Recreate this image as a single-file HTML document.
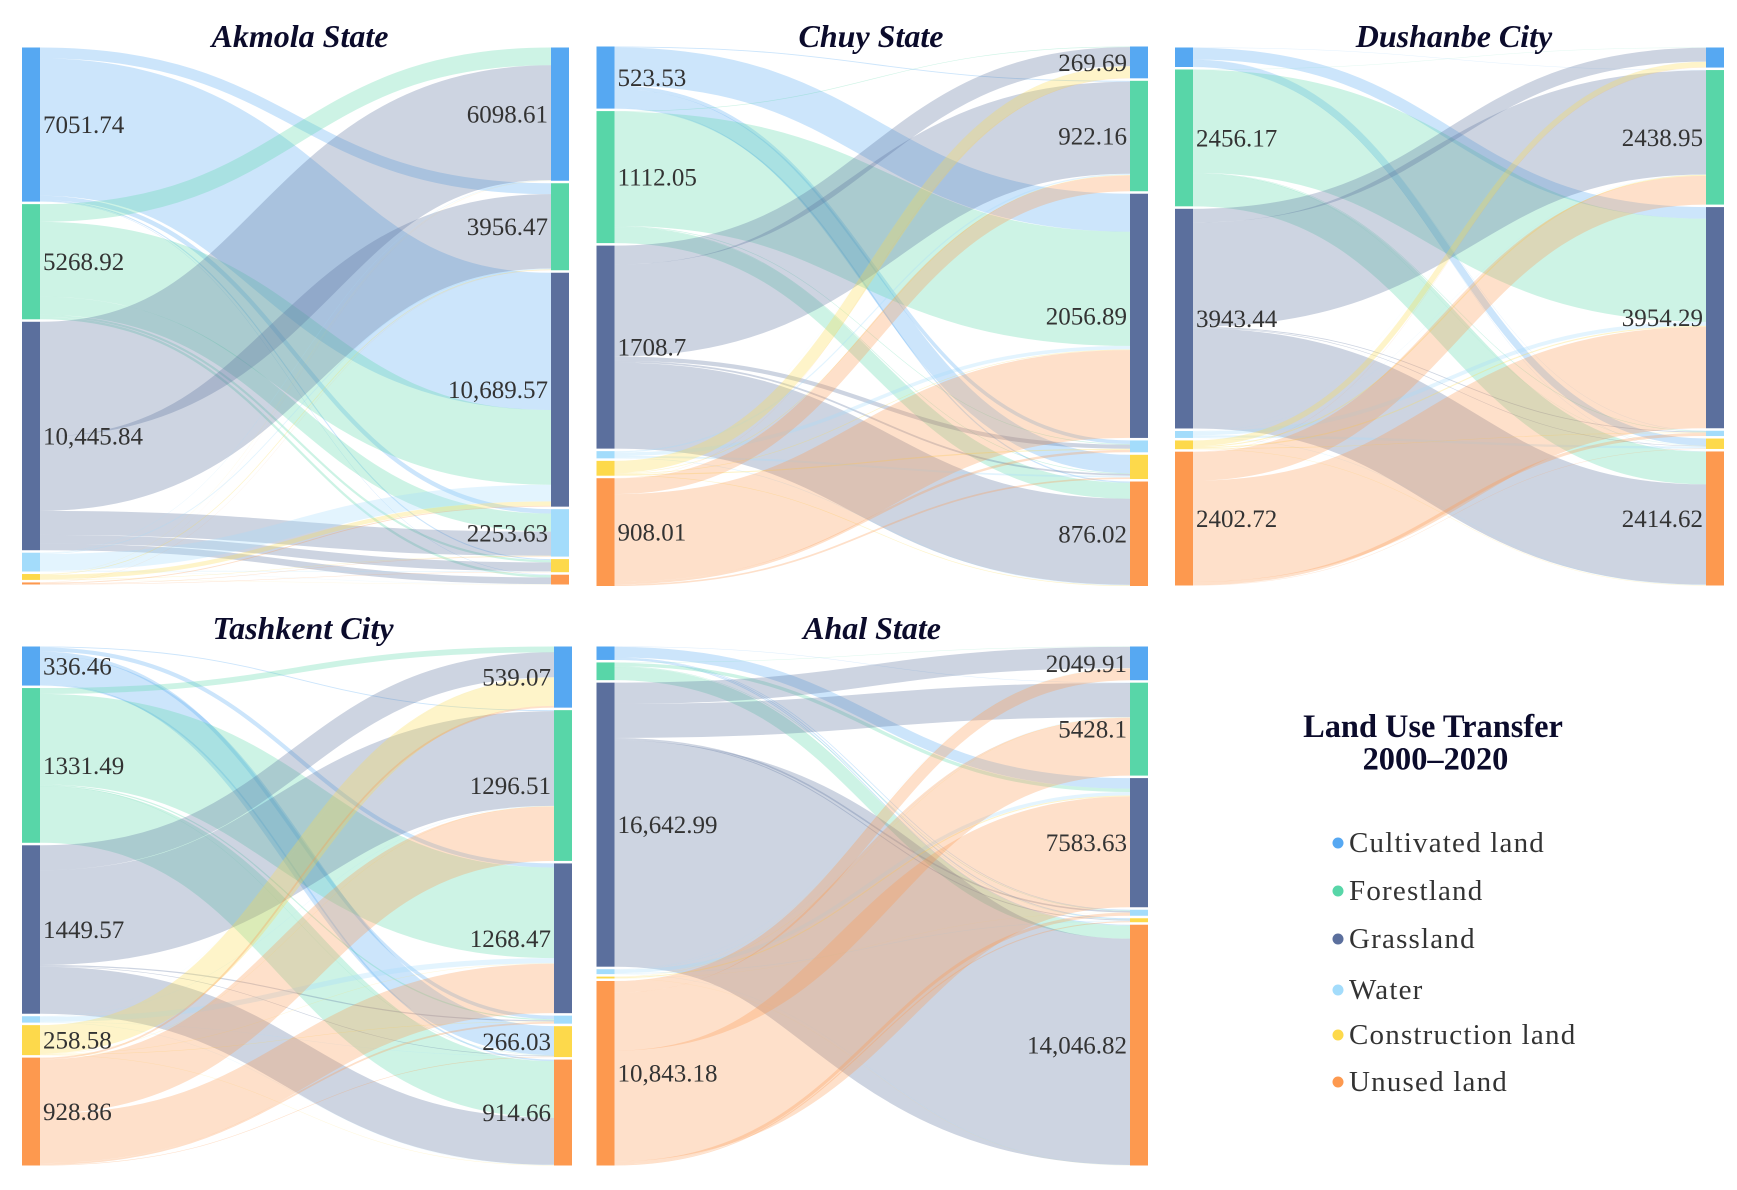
<!DOCTYPE html>
<html lang="en">
<head>
<meta charset="utf-8">
<title>Land Use Transfer 2000–2020</title>
<style>
  html, body { margin: 0; padding: 0; background: #fff; }
  svg { display: block; }
  text { font-family: "Liberation Serif", serif; }
</style>
</head>
<body>
<svg id="chart" xmlns="http://www.w3.org/2000/svg" width="1737" height="1190" viewBox="0 0 1737 1190"></svg>
<script>
// Land classes, rows/columns of every flow matrix below
const categories = ["Cultivated land", "Forestland", "Grassland", "Water", "Construction land", "Unused land"];

// Flow matrices: row = class in 2000 (left), column = class in 2020 (right)
const akmolaFlows = [
  [0, 500, 6280, 200, 50, 20],
  [810, 0, 3420, 830, 100, 108],
  [5250, 3400, 0, 1100, 400, 300],
  [20, 40, 760, 0, 30, 10],
  [10, 30, 200, 20, 0, 10],
  [5, 10, 40, 20, 20, 0]
];
const chuyFlows = [
  [0, 8, 320, 30, 155, 10],
  [5, 0, 962, 5, 5, 135],
  [160, 775, 0, 35, 15, 725],
  [1, 10, 30, 0, 15, 5],
  [100, 5, 5, 10, 0, 5],
  [2, 132, 740, 20, 14, 0]
];
const dushanbeFlows = [
  [0, 5, 210, 5, 125, 5],
  [5, 0, 1850, 10, 5, 586],
  [248, 1870, 0, 15, 10, 1800],
  [2, 5, 70, 0, 40, 8],
  [100, 20, 20, 10, 0, 7],
  [5, 515, 1820, 55, 7, 0]
];
const tashkentFlows = [
  [0, 8, 35, 30, 250, 13],
  [50, 0, 780, 10, 3, 488],
  [215, 815, 0, 10, 5, 404],
  [1, 3, 45, 0, 3, 3],
  [245, 3, 3, 4, 0, 3],
  [15, 468, 425, 15, 5, 0]
];
const ahalFlows = [
  [0, 20, 620, 40, 60, 50],
  [20, 0, 200, 30, 20, 770],
  [1250, 2000, 0, 90, 53, 13300],
  [10, 20, 200, 0, 40, 20],
  [10, 20, 60, 10, 0, 10],
  [690, 3400, 6510, 183, 60, 0]
];

// Printed node values (null = unlabelled)
const akmolaLeftLabels = ["7051.74", "5268.92", "10,445.84", null, null, null];
const akmolaRightLabels = ["6098.61", "3956.47", "10,689.57", "2253.63", null, null];
const chuyLeftLabels = ["523.53", "1112.05", "1708.7", null, null, "908.01"];
const chuyRightLabels = ["269.69", "922.16", "2056.89", null, null, "876.02"];
const dushanbeLeftLabels = [null, "2456.17", "3943.44", null, null, "2402.72"];
const dushanbeRightLabels = [null, "2438.95", "3954.29", null, null, "2414.62"];
const tashkentLeftLabels = ["336.46", "1331.49", "1449.57", null, "258.58", "928.86"];
const tashkentRightLabels = ["539.07", "1296.51", "1268.47", null, "266.03", "914.66"];
const ahalLeftLabels = [null, null, "16,642.99", null, null, "10,843.18"];
const ahalRightLabels = ["2049.91", "5428.1", "7583.63", null, null, "14,046.82"];

const legendTitleLines = ["Land Use Transfer", "2000–2020"];

// Styling and layout
const classColors = ["#56a8f2", "#58d6a8", "#5b6f9d", "#a3dcfb", "#fdd94b", "#fd994f"];
const panels = [
  { key: "akmola", title: "Akmola State", flows: akmolaFlows, leftLabels: akmolaLeftLabels, rightLabels: akmolaRightLabels,
    lx: 22, rx: 551, top: 47.5, bottom: 584.5, titleX: 300, titleY: 47 },
  { key: "chuy", title: "Chuy State", flows: chuyFlows, leftLabels: chuyLeftLabels, rightLabels: chuyRightLabels,
    lx: 596.5, rx: 1130, top: 46.5, bottom: 586, titleX: 871, titleY: 47 },
  { key: "dushanbe", title: "Dushanbe City", flows: dushanbeFlows, leftLabels: dushanbeLeftLabels, rightLabels: dushanbeRightLabels,
    lx: 1175, rx: 1706, top: 47.5, bottom: 585.5, titleX: 1454, titleY: 47 },
  { key: "tashkent", title: "Tashkent City", flows: tashkentFlows, leftLabels: tashkentLeftLabels, rightLabels: tashkentRightLabels,
    lx: 22, rx: 554, top: 646.5, bottom: 1165.5, titleX: 303, titleY: 639 },
  { key: "ahal", title: "Ahal State", flows: ahalFlows, leftLabels: ahalLeftLabels, rightLabels: ahalRightLabels,
    lx: 596.5, rx: 1130, top: 646.5, bottom: 1165.5, titleX: 872, titleY: 639 }
];
const NODE_W = 18;
const MIN_GAP = 2.5;
const SVG_NS = "http://www.w3.org/2000/svg";
const root = document.getElementById("chart");

function make(tag, attrs, parent) {
  const el = document.createElementNS(SVG_NS, tag);
  for (const k in attrs) el.setAttribute(k, attrs[k]);
  parent.appendChild(el);
  return el;
}
function slug(s) { return s.toLowerCase().replace(/[^a-z0-9]+/g, "-"); }
function sum(a) { return a.reduce(function (p, c) { return p + c; }, 0); }

function stackColumn(totals, top, bottom, scale) {
  const used = sum(totals) * scale;
  const gap = (bottom - top - used) / (totals.length - 1);
  const ys = [];
  let y = top;
  totals.forEach(function (t) {
    ys.push(y);
    y += t * scale + gap;
  });
  return ys;
}

function drawPanel(p) {
  const g = make("g", {}, root);
  
  

  const n = categories.length;
  const leftTotals = p.flows.map(sum);
  const rightTotals = categories.map(function (_, j) {
    return sum(p.flows.map(function (row) { return row[j]; }));
  });
  const scale = (p.bottom - p.top - (n - 1) * MIN_GAP) / Math.max(sum(leftTotals), sum(rightTotals));
  const leftY = stackColumn(leftTotals, p.top, p.bottom, scale);
  const rightY = stackColumn(rightTotals, p.top, p.bottom, scale);
  const x0 = p.lx + NODE_W;
  const x1 = p.rx;
  const xm = (x0 + x1) / 2;

  // ribbons are stroked centre lines (constant perpendicular width),
  // stacked by target order at the source and by source order at the target
  const leftCursor = leftY.slice();
  const rightCursor = rightY.slice();
  const rightOffsets = [];
  for (let i = 0; i < n; i++) {
    rightOffsets.push([]);
    for (let j = 0; j < n; j++) {
      rightOffsets[i].push(rightCursor[j]);
      rightCursor[j] += p.flows[i][j] * scale;
    }
  }
  for (let i = 0; i < n; i++) {
    for (let j = 0; j < n; j++) {
      const v = p.flows[i][j];
      if (!v) continue;
      const h = v * scale;
      const ya = leftCursor[i] + h / 2;
      const yb = rightOffsets[i][j] + h / 2;
      leftCursor[i] += h;
      const d = "M" + x0 + " " + ya + "C" + xm + " " + ya + " " + xm + " " + yb + " " + x1 + " " + yb;
      const link = make("path", { d: d, fill: "none", stroke: classColors[i], "stroke-opacity": 0.3, "stroke-width": h }, g);
      
      
    }
  }

  // nodes
  for (let i = 0; i < n; i++) {
    const l = make("rect", { x: p.lx, y: leftY[i], width: NODE_W, height: leftTotals[i] * scale, fill: classColors[i] }, g);
    
    
    const r = make("rect", { x: p.rx, y: rightY[i], width: NODE_W, height: rightTotals[i] * scale, fill: classColors[i] }, g);
    
    
  }

  // node value labels
  for (let i = 0; i < n; i++) {
    if (p.leftLabels[i]) {
      const t = make("text", { x: x0 + 3, y: leftY[i] + leftTotals[i] * scale / 2 + 8.5, "font-size": 25, fill: "#333" }, g);
      t.textContent = p.leftLabels[i];
      
      
    }
    if (p.rightLabels[i]) {
      const t = make("text", { x: x1 - 3, y: rightY[i] + rightTotals[i] * scale / 2 + 8.5, "font-size": 25, fill: "#333", "text-anchor": "end" }, g);
      t.textContent = p.rightLabels[i];
      
      
    }
  }

  const title = make("text", { x: p.titleX, y: p.titleY, "font-size": 32, "font-weight": "bold", "font-style": "italic", fill: "#0b0b2b", "text-anchor": "middle" }, g);
  title.textContent = p.title;
  
  
}

panels.forEach(drawPanel);

// Legend
const legend = make("g", {}, root);


legendTitleLines.forEach(function (line, i) {
  const t = make("text", { x: 1433 + i * 2.5, y: 737 + i * 32.5, "font-size": 32.4, "font-weight": "bold", fill: "#0b0b2b", "text-anchor": "middle" }, legend);
  t.textContent = line;
  
  
});
const legendRowY = [843, 891, 939, 990, 1035, 1082];
categories.forEach(function (name, i) {
  const item = make("g", {}, legend);
  
  
  const dot = make("circle", { cx: 1338, cy: legendRowY[i], r: 5.5, fill: classColors[i] }, item);
  
  
  const t = make("text", { x: 1349, y: legendRowY[i] + 9, "font-size": 29, fill: "#333", "letter-spacing": "1.2" }, item);
  t.textContent = name;
  
  
});
</script>
</body>
</html>
